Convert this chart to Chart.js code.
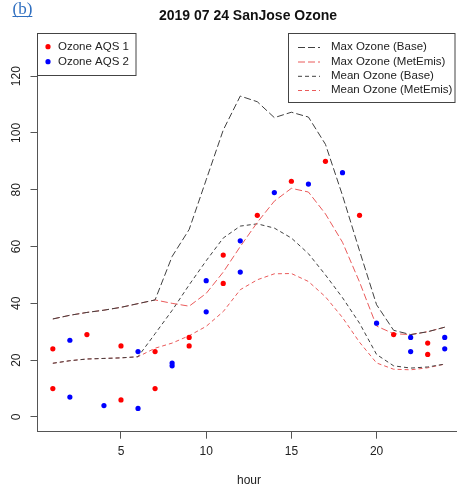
<!DOCTYPE html>
<html><head><meta charset="utf-8">
<script src="https://cdn.jsdelivr.net/npm/chart.js@4.4.1/dist/chart.umd.min.js"></script>
<style>html,body{margin:0;padding:0;background:#fff}canvas{display:block}</style>
</head><body>
<canvas id="c" width="457" height="486"></canvas>
<script>
const chartTitle = "2019 07 24 SanJose Ozone";
const xAxisLabel = "hour";
const hours = [1,2,3,4,5,6,7,8,9,10,11,12,13,14,15,16,17,18,19,20,21,22,23,24];
const maxBase = [34.5,35.8,36.8,37.6,38.6,39.9,41.2,56.5,66,83.5,101,113,111,105.4,107.3,105.6,96,78,58.5,39.5,30.5,29,30,31.6];
const maxMetEmis = [34.5,35.8,36.8,37.6,38.6,39.9,41.2,40,39,43.5,51,60,68.5,76,80.5,79.2,71.5,61.5,47.5,32,29.3,29,30,31.6];
const meanBase = [18.9,19.8,20.4,20.6,20.8,21.2,29.3,37.5,46.5,55,63,67.2,68,66.5,63,57.5,50,42,33,22,18,17.2,17.6,18.6];
const meanMetEmis = [18.9,19.8,20.4,20.6,20.8,21.2,24.2,26,28.6,31.9,37.1,44.8,48.3,50.4,50.5,47.7,42.3,35,26.3,19,16.8,16.6,17.3,18.6];
const aqs1Hours = [1,1,3,5,5,7,7,9,9,11,11,13,15,17,19,21,23,23];
const aqs1Values = [24,10,29,25,6,23,10,28,25,57,47,71,83,90,71,29,26,22];
const aqs2Hours = [2,2,4,6,6,8,8,10,10,12,12,14,16,18,20,22,22,24,24];
const aqs2Values = [27,7,4,23,3,19,18,48,37,62,51,79,82,86,33,28,23,28,24];
const xTicks = [5,10,15,20];
const yTicks = [0,20,40,60,80,100,120];

const pts = (xs, ys) => xs.map((x,i)=>({x:x, y:ys[i]}));
const FONT = "'Liberation Sans', Arial, sans-serif";
const BLACK = '#404040', RED = '#EA5A5A';
const LONG = [7,3], SHORT = [4,3];

const overlay = {
  id: 'overlay',
  afterDraw(chart) {
    const ctx = chart.ctx;
    const ys = chart.scales.y;
    ctx.save();
    ctx.fillStyle = '#2f6fc0';
    ctx.font = "17px 'Liberation Serif', 'Times New Roman', serif";
    ctx.textAlign = 'left'; ctx.textBaseline = 'alphabetic';
    ctx.fillText('(b)', 12.5, 13.5);
    ctx.fillRect(12.5, 16, ctx.measureText('(b)').width, 1);
    ctx.fillStyle = '#111';
    ctx.font = "bold 14px " + FONT;
    ctx.textAlign = 'center'; ctx.textBaseline = 'middle';
    ctx.fillText(chartTitle, 248, 15.7);
    ctx.font = "12px " + FONT;
    ctx.fillStyle = '#222';
    ctx.fillText(xAxisLabel, 249, 480.7);
    yTicks.forEach(v => {
      const y = ys.getPixelForValue(v);
      ctx.save();
      ctx.translate(16.2, y);
      ctx.rotate(-Math.PI/2);
      ctx.fillText(String(v), 0, 0);
      ctx.restore();
    });
    ctx.strokeStyle = '#444'; ctx.lineWidth = 1;
    ctx.strokeRect(37.5, 33.5, 98.5, 42);
    ctx.strokeRect(288.5, 33.5, 166.5, 69);
    ctx.font = "11.5px " + FONT;
    ctx.textAlign = 'left';
    const dots = [['red','Ozone AQS 1',46.7],['blue','Ozone AQS 2',61.7]];
    dots.forEach(([c,t,y]) => {
      ctx.fillStyle = c;
      ctx.beginPath(); ctx.arc(48, y, 2.6, 0, Math.PI*2); ctx.fill();
      ctx.fillStyle = '#222';
      ctx.fillText(t, 58, y);
    });
    const lines = [[BLACK, LONG,'Max Ozone (Base)',47],[RED, LONG,'Max Ozone (MetEmis)',61.5],[BLACK, SHORT,'Mean Ozone (Base)',75.8],[RED, SHORT,'Mean Ozone (MetEmis)',90]];
    lines.forEach(([c,d,t,y]) => {
      ctx.strokeStyle = c; ctx.setLineDash(d);
      ctx.beginPath(); ctx.moveTo(298, y+0.5); ctx.lineTo(320, y+0.5); ctx.stroke();
      ctx.setLineDash([]);
      ctx.fillStyle = '#222';
      ctx.fillText(t, 331, y);
    });
    ctx.restore();
  }
};

const lineDs = (label, data, color, dash) => ({
  type: 'line', label, data: pts(hours, data), borderColor: color, borderWidth: 1,
  borderDash: dash, pointRadius: 0, pointHoverRadius: 0, tension: 0, fill: false, order: 2
});

new Chart(document.getElementById('c'), {
  type: 'scatter',
  data: {
    datasets: [
      {label:'Ozone AQS 1', data: pts(aqs1Hours, aqs1Values), backgroundColor:'red', borderColor:'red', pointRadius:2.6, pointBorderWidth:0, order:1},
      {label:'Ozone AQS 2', data: pts(aqs2Hours, aqs2Values), backgroundColor:'blue', borderColor:'blue', pointRadius:2.6, pointBorderWidth:0, order:1},
      lineDs('Max Ozone (Base)', maxBase, BLACK, LONG),
      lineDs('Max Ozone (MetEmis)', maxMetEmis, RED, LONG),
      lineDs('Mean Ozone (Base)', meanBase, BLACK, SHORT),
      lineDs('Mean Ozone (MetEmis)', meanMetEmis, RED, SHORT)
    ]
  },
  options: {
    responsive: false, animation: false, devicePixelRatio: 1,
    layout: {autoPadding: false, padding: {top: 33, left: 0, right: 0, bottom: 0}},
    plugins: {legend: {display: false}, tooltip: {enabled: false}, title: {display: false}},
    scales: {
      x: {
        type: 'linear', min: 0.1, max: 24.72,
        afterBuildTicks: s => { s.ticks = xTicks.map(v => ({value: v})); },
        afterFit: s => { s.height = 54.3; },
        grid: {drawOnChartArea: false, drawTicks: true, tickLength: 7, color: '#555', lineWidth: 1},
        border: {display: true, color: '#555', width: 1},
        ticks: {font: {family: FONT, size: 12}, color: '#222', padding: 6, maxRotation: 0}
      },
      y: {
        type: 'linear', min: -5.2, max: 135.2,
        afterBuildTicks: s => { s.ticks = yTicks.map(v => ({value: v})); },
        afterFit: s => { s.width = 37.5; },
        grid: {drawOnChartArea: false, drawTicks: true, tickLength: 7, color: '#555', lineWidth: 1},
        border: {display: true, color: '#555', width: 1},
        ticks: {display: false}
      }
    }
  },
  plugins: [overlay]
});
</script>
</body></html>
